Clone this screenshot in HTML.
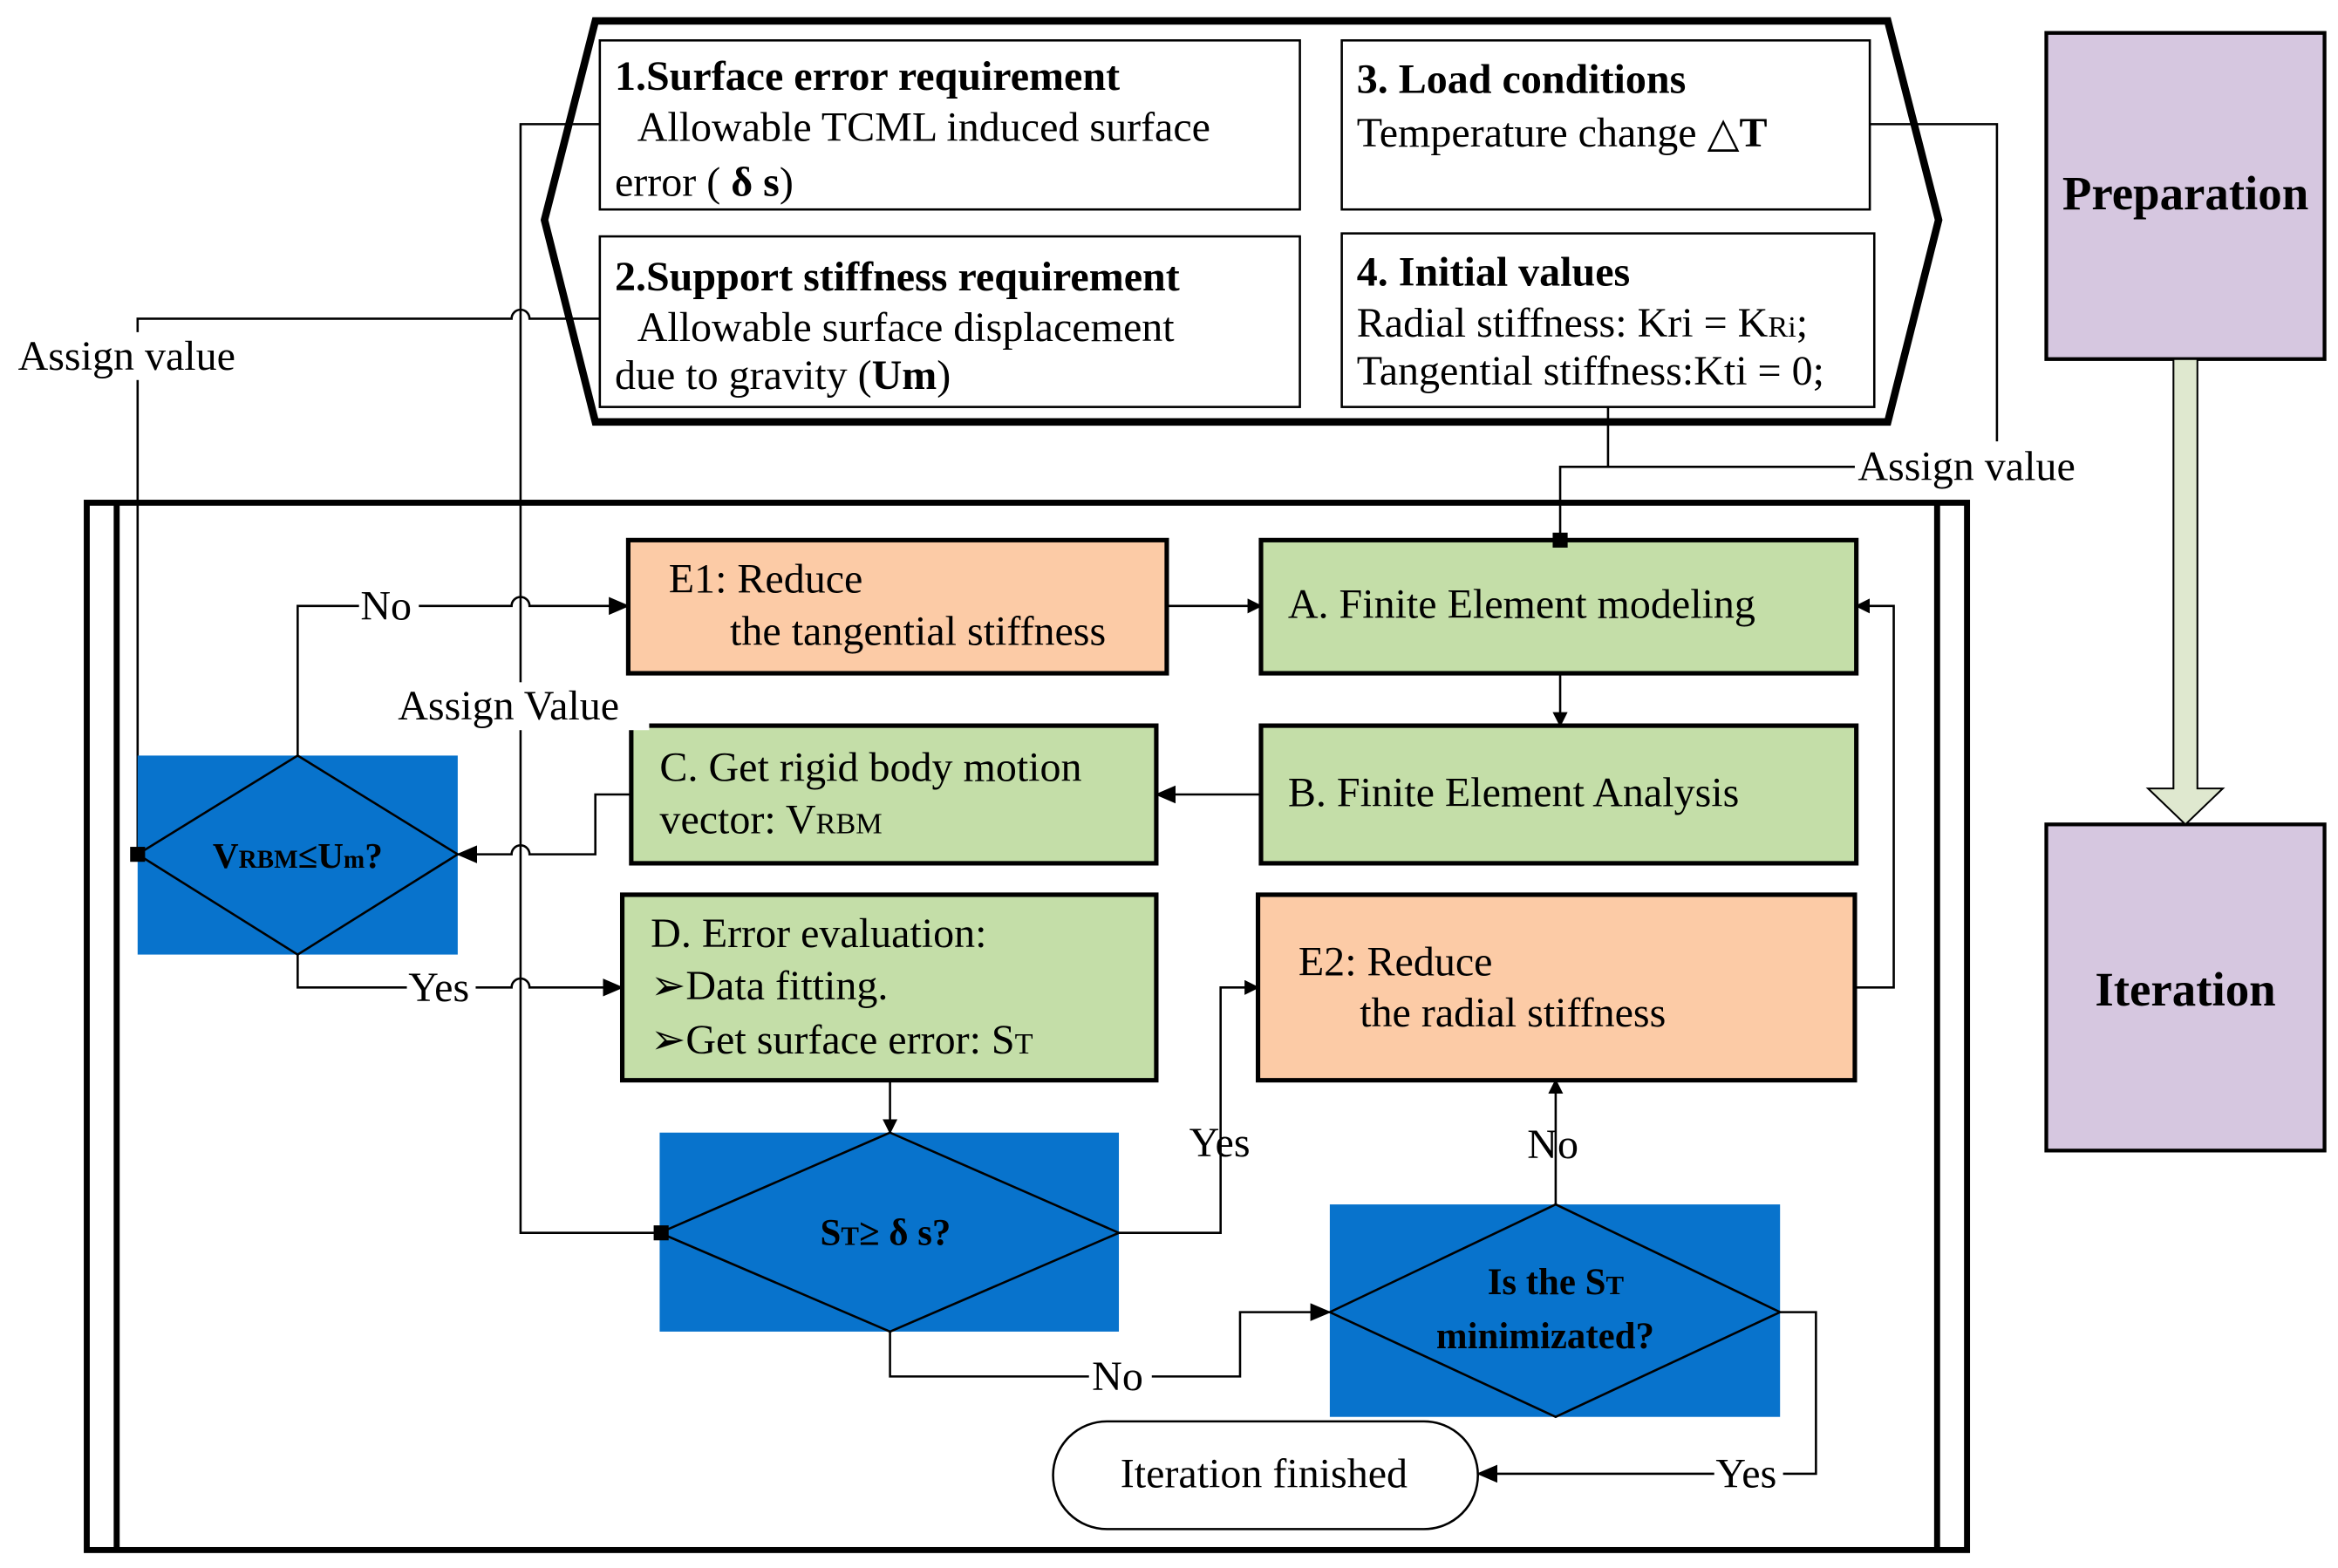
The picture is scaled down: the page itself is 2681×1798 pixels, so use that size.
<!DOCTYPE html>
<html><head><meta charset="utf-8"><style>
html,body{margin:0;padding:0;background:#fff;}
svg{display:block;}
text{font-family:"Liberation Serif","DejaVu Serif",serif;font-size:28px;fill:#000;}
.b{font-weight:bold;}
</style></head><body>
<svg width="2681" height="1798" viewBox="0 0 1563 1048" preserveAspectRatio="none" xmlns="http://www.w3.org/2000/svg">
<defs>
<marker id="ar" markerWidth="10" markerHeight="10" refX="9" refY="5" orient="auto" markerUnits="userSpaceOnUse"><path d="M0,0 L10,5 L0,10 z" fill="#000"/></marker>
<marker id="ar2" markerWidth="14" markerHeight="12" refX="13" refY="6" orient="auto" markerUnits="userSpaceOnUse"><path d="M0,0 L14,6 L0,12 z" fill="#000"/></marker>
</defs>
<polygon points="398,14 1262,14 1296,147 1262,282 398,282 364,147" fill="#fff" stroke="#000" stroke-width="5"/>
<g fill="#fff" stroke="#000" stroke-width="1.5">
<rect x="401" y="27" width="468" height="113"/>
<rect x="897" y="27" width="353" height="113"/>
<rect x="401" y="158" width="468" height="114"/>
<rect x="897" y="156" width="356" height="116"/>
</g>
<text x="411" y="60" class="b">1.Surface error requirement</text>
<text x="426" y="94">Allowable TCML induced surface</text>
<text x="411" y="131">error ( <tspan class="b">δ s</tspan>)</text>
<text x="907" y="62" class="b">3. Load conditions</text>
<text x="907" y="98">Temperature change <tspan class="b">△T</tspan></text>
<text x="411" y="194" class="b">2.Support stiffness requirement</text>
<text x="426" y="228">Allowable  surface displacement</text>
<text x="411" y="260">due to gravity (<tspan class="b">Um</tspan>)</text>
<text x="907" y="191" class="b">4. Initial values</text>
<text x="907" y="225">Radial stiffness: Kri = K<tspan style="font-size:20px">Ri</tspan>;</text>
<text x="907" y="257">Tangential stiffness:Kti = 0;</text>

<g fill="none" stroke="#000" stroke-width="4">
<rect x="58" y="336" width="1257" height="700"/>
<line x1="78" y1="336" x2="78" y2="1036"/>
<line x1="1295" y1="336" x2="1295" y2="1036"/>
</g>

<rect x="1368" y="22" width="186" height="218" fill="#d6c7e0" stroke="#000" stroke-width="2.5"/>
<rect x="1368" y="551" width="186" height="218" fill="#d6c7e0" stroke="#000" stroke-width="2.5"/>
<polygon points="1453,240 1469,240 1469,527 1486,527 1461,551 1436,527 1453,527" fill="#dfe8cf" stroke="#000" stroke-width="1.2"/>
<text x="1461" y="140" text-anchor="middle" class="b" style="font-size:32px">Preparation</text>
<text x="1461" y="672" text-anchor="middle" class="b" style="font-size:32px">Iteration</text>

<g fill="none" stroke="#000" stroke-width="1.5">
<polyline points="1250,83 1335,83 1335,300"/>
<polyline points="1075,272 1075,312"/>
<polyline points="1240,312 1043,312 1043,361"/>
<polyline points="401,83 348,83 348,824 441,824"/>
<path d="M401,213 L354,213 A6,6 0 0 0 342,213 L92,213 L92,571"/>
<polyline points="780,405 843,405" marker-end="url(#ar)"/>
<polyline points="1043,450 1043,485" marker-end="url(#ar)"/>
<polyline points="843,531 773,531" marker-end="url(#ar2)"/>
<path d="M422,531 L398,531 L398,571 L354,571 A6,6 0 0 0 342,571 L306,571" marker-end="url(#ar2)"/>
<path d="M199,505 L199,405 L342,405 A6,6 0 0 1 354,405 L420,405" marker-end="url(#ar2)"/>
<path d="M199,638 L199,660 L342,660 A6,6 0 0 1 354,660 L416,660" marker-end="url(#ar2)"/>
<polyline points="595,722 595,757" marker-end="url(#ar)"/>
<polyline points="748,824 816,824 816,660 841,660" marker-end="url(#ar)"/>
<polyline points="595,890 595,920 829,920 829,877 889,877" marker-end="url(#ar2)"/>
<polyline points="1040,805 1040,722" marker-end="url(#ar)"/>
<polyline points="1190,877 1214,877 1214,985 988,985" marker-end="url(#ar2)"/>
<polyline points="1240,660 1266,660 1266,405 1241,405" marker-end="url(#ar)"/>
</g>

<g stroke="#000" stroke-width="3">
<rect x="420" y="361" width="360" height="89" fill="#fccba6"/>
<rect x="843" y="361" width="398" height="89" fill="#c4dea8"/>
<rect x="843" y="485" width="398" height="92" fill="#c4dea8"/>
<rect x="422" y="485" width="351" height="92" fill="#c4dea8"/>
<rect x="416" y="598" width="357" height="124" fill="#c4dea8"/>
<rect x="841" y="598" width="399" height="124" fill="#fccba6"/>
</g>
<text x="447" y="396">E1: Reduce</text>
<text x="488" y="431">the tangential stiffness</text>
<text x="861" y="413">A. Finite Element modeling</text>
<text x="861" y="539">B. Finite Element Analysis</text>
<text x="441" y="522">C. Get rigid body motion</text>
<text x="441" y="557">vector: V<tspan style="font-size:20px">RBM</tspan></text>
<text x="435" y="633">D. Error evaluation:</text>
<text x="435" y="668">➢Data fitting.</text>
<text x="435" y="704">➢Get surface error: S<tspan style="font-size:20px">T</tspan></text>
<text x="868" y="652">E2: Reduce</text>
<text x="909" y="686">the radial stiffness</text>

<rect x="92" y="505" width="214" height="133" fill="#0873cc"/>
<polygon points="199,505 306,571 199,638 92,571" fill="none" stroke="#000" stroke-width="1.5"/>
<text x="199" y="580" text-anchor="middle" class="b" style="font-size:24px">V<tspan style="font-size:17px">RBM</tspan>≤U<tspan style="font-size:17px">m</tspan>?</text>
<rect x="441" y="757" width="307" height="133" fill="#0873cc"/>
<polygon points="595,757 748,824 595,890 441,824" fill="none" stroke="#000" stroke-width="1.5"/>
<text x="592" y="832" text-anchor="middle" class="b" style="font-size:25px">S<tspan style="font-size:18px">T</tspan>≥ δ s?</text>
<rect x="889" y="805" width="301" height="142" fill="#0873cc"/>
<polygon points="1040,805 1190,877 1040,947 889,877" fill="none" stroke="#000" stroke-width="1.5"/>
<text x="1040" y="865" text-anchor="middle" class="b" style="font-size:25px">Is the S<tspan style="font-size:18px">T</tspan></text>
<text x="1033" y="901" text-anchor="middle" class="b" style="font-size:25px">minimizated?</text>

<rect x="1038" y="356" width="10" height="10" fill="#000"/>
<rect x="437" y="819" width="10" height="10" fill="#000"/>
<rect x="87" y="566" width="10" height="10" fill="#000"/>

<rect x="704" y="950" width="284" height="72" rx="36" ry="36" fill="#fff" stroke="#000" stroke-width="1.5"/>
<text x="845" y="994" text-anchor="middle">Iteration finished</text>

<g fill="#fff">
<rect x="1240" y="295" width="165" height="32"/>
<rect x="10" y="222" width="165" height="32"/>
<rect x="266" y="456" width="168" height="32"/>
<rect x="240" y="390" width="40" height="30"/>
<rect x="272" y="645" width="46" height="30"/>
<rect x="728" y="905" width="42" height="30"/>
<rect x="1146" y="970" width="46" height="30"/>
</g>
<text x="1242" y="321">Assign value</text>
<text x="12" y="247">Assign value</text>
<text x="266" y="481">Assign Value</text>
<text x="241" y="414">No</text>
<text x="273" y="669">Yes</text>
<text x="730" y="929">No</text>
<text x="1147" y="994">Yes</text>
<text x="795" y="773">Yes</text>
<text x="1021" y="774">No</text>
</svg>
</body></html>
